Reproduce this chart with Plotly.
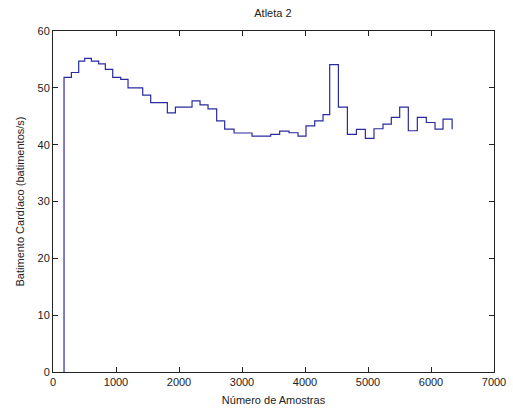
import plotly.graph_objects as go

# Sample positions (step starts) and heart-rate values
amostras = [175, 175, 292, 408, 503, 609, 725, 831, 948, 1075, 1191, 1424, 1551, 1815,
            1943, 2207, 2334, 2461, 2598, 2725, 2874, 3159, 3455, 3598, 3746, 3889,
            4016, 4154, 4286, 4392, 4530, 4673, 4816, 4958, 5095, 5238, 5370, 5503,
            5640, 5783, 5926, 6064, 6191, 6335]
batimentos = [0, 51.85, 52.7, 54.7, 55.2, 54.7, 54.2, 53.25, 51.85, 51.5, 50.0, 48.7,
              47.4, 45.6, 46.6, 47.7, 47.0, 46.3, 44.2, 42.75, 42.05, 41.5, 41.8, 42.4,
              42.1, 41.5, 43.3, 44.2, 45.3, 54.1, 46.6, 41.8, 42.7, 41.1, 42.8, 43.6,
              44.8, 46.6, 42.45, 44.8, 43.9, 42.75, 44.5, 42.7]

x_ticks = [0, 1000, 2000, 3000, 4000, 5000, 6000, 7000]
y_ticks = [0, 10, 20, 30, 40, 50, 60]

font = dict(family="Liberation Sans, Arial, sans-serif", size=11, color="#222222")

fig = go.Figure()
fig.add_trace(go.Scatter(
    x=amostras, y=batimentos, mode="lines",
    line=dict(shape="hv", color="#2a2aa0", width=1.2),
    showlegend=False, hoverinfo="skip"))

axis_common = dict(
    showgrid=False, zeroline=False, showline=True, linecolor="#222222", linewidth=1,
    mirror="ticks", ticks="inside", ticklen=5, tickcolor="#222222", tickwidth=1,
    tickfont=font, automargin=False,
)

fig.update_layout(
    template="none",
    width=513, height=414,
    margin=dict(l=53, r=19, t=31, b=42, pad=0),
    paper_bgcolor="white", plot_bgcolor="white",
    font=font,
    title=dict(text="Atleta 2", x=0.532, xanchor="center", y=0.968, yanchor="middle",
               font=dict(family="Liberation Sans, Arial, sans-serif", size=11, color="#222222")),
    xaxis=dict(range=[0, 7000], tickvals=x_ticks, ticktext=[str(v) for v in x_ticks],
               title=dict(text="Número de Amostras", standoff=9, font=font), **axis_common),
    yaxis=dict(range=[0, 60], tickvals=y_ticks, ticktext=[str(v) for v in y_ticks],
               title=dict(text="Batimento Cardíaco (batimentos/s)", standoff=10, font=font),
               **axis_common),
)

fig.write_html("out.html")
